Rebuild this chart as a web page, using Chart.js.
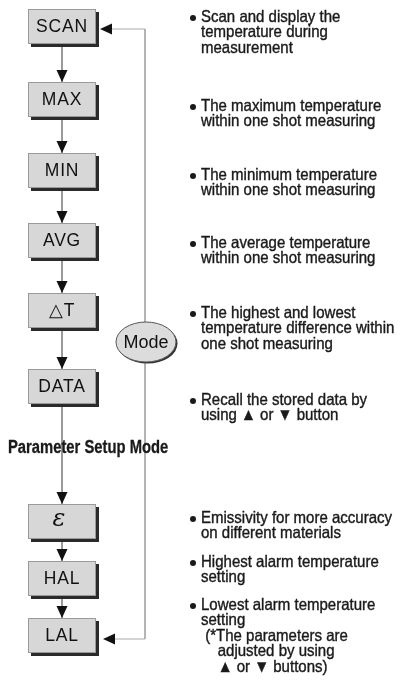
<!DOCTYPE html>
<html>
<head>
<meta charset="utf-8">
<script src="https://cdn.jsdelivr.net/npm/chart.js@4.4.1/dist/chart.umd.min.js"></script>
<style>
html, body { margin: 0; padding: 0; background: #fff; }
canvas { display: block; }
</style>
</head>
<body>
<canvas id="flowCanvas" width="404" height="696"></canvas>
<script>
// ステップ (箱) とその位置
const boxLabels = ["SCAN", "MAX", "MIN", "AVG", "\u25B3T", "DATA", "\u03B5", "HAL", "LAL"];
const boxTops = [9, 82, 153, 223, 293, 369, 504, 561, 618];

// 右側の説明文
const descLines = [
    ["Scan and display the", "temperature during", "measurement"],
    ["The maximum temperature", "within one shot measuring"],
    ["The minimum temperature", "within one shot measuring"],
    ["The average temperature", "within one shot measuring"],
    ["The highest and lowest", "temperature difference within", "one shot measuring"],
    ["Recall the stored data by", "using \u25B2 or \u25BC button"],
    ["Emissivity for more accuracy", "on different materials"],
    ["Highest alarm temperature", "setting"],
    ["Lowest alarm temperature", "setting", " (*The parameters are", "    adjusted by using", "    \u25B2 or \u25BC buttons)"]
];
const descTops = [17, 106, 175, 243, 313, 400, 518, 562, 605];

const modeLabel = "Mode";
const modeCenter = [146, 342];
const sectionLabel = "Parameter Setup Mode";
const sectionY = 448;

// ループ線 (LAL -> SCAN)
const loopX = 145;
const loopTopY = 29;
const loopBottomY = 639;

const boxX = 28, boxW = 68, boxH = 35, centerX = 62;

// 細い縦長の文字を描く
function narrowText(ctx, text, x, y, font, sx, weight) {
    ctx.save();
    ctx.translate(x, y);
    ctx.scale(sx, 1);
    ctx.textAlign = 'left';
    ctx.textBaseline = 'middle';
    ctx.font = font;
    ctx.fillText(text, 0, 0);
    if (weight) {
        ctx.lineWidth = weight;
        ctx.strokeStyle = ctx.fillStyle;
        ctx.strokeText(text, 0, 0);
    }
    ctx.restore();
}

const flowPlugin = {
    id: 'flow',
    afterDatasetsDraw(chart) {
        const { ctx, scales: { x, y } } = chart;
        const px = v => x.getPixelForValue(v);
        const py = v => y.getPixelForValue(v);
        ctx.save();

        // 下向き矢印
        ctx.fillStyle = '#111';
        for (let i = 1; i < boxTops.length; i++) {
            const tx = px(centerX), ty = py(boxTops[i]);
            ctx.beginPath();
            ctx.moveTo(tx, ty);
            ctx.lineTo(tx - 5.5, ty - 12);
            ctx.lineTo(tx + 5.5, ty - 12);
            ctx.closePath();
            ctx.fill();
        }
        // 左向き矢印
        [[boxX + boxW + 4, loopTopY], [boxX + boxW + 7, loopBottomY]].forEach(([ax, ay]) => {
            const tx = px(ax), ty = py(ay);
            ctx.beginPath();
            ctx.moveTo(tx, ty);
            ctx.lineTo(tx + 12, ty - 5.5);
            ctx.lineTo(tx + 12, ty + 5.5);
            ctx.closePath();
            ctx.fill();
        });

        // 箱
        const w = px(boxX + boxW) - px(boxX);
        boxTops.forEach((top, i) => {
            const bx = px(boxX), by = py(top);
            ctx.fillStyle = '#2a2a2a';
            ctx.fillRect(bx + 3, by + 3, w, boxH);
            ctx.fillStyle = '#d7d7d7';
            ctx.fillRect(bx, by, w, boxH);
            ctx.strokeStyle = '#9a9a9a';
            ctx.lineWidth = 1;
            ctx.strokeRect(bx + 0.5, by + 0.5, w - 1, boxH - 1);

            ctx.fillStyle = '#111';
            ctx.textAlign = 'center';
            ctx.textBaseline = 'middle';
            if (boxLabels[i] === "\u03B5") {
                ctx.font = 'italic 24px "DejaVu Serif"';
                ctx.fillText(boxLabels[i], bx + w / 2 - 3, by + boxH / 2 - 2);
            } else {
                ctx.font = '17.5px "Liberation Sans", Arial, sans-serif';
                ctx.letterSpacing = '0.8px';
                ctx.fillText(boxLabels[i], bx + w / 2, by + boxH / 2 + 1);
                ctx.letterSpacing = '0px';
            }
        });

        // Mode 楕円
        const mx = px(modeCenter[0]), my = py(modeCenter[1]);
        ctx.fillStyle = '#333';
        ctx.beginPath();
        ctx.ellipse(mx + 1.5, my + 1.5, 30, 20, 0, 0, Math.PI * 2);
        ctx.fill();
        ctx.fillStyle = '#dcdcdc';
        ctx.strokeStyle = '#555';
        ctx.beginPath();
        ctx.ellipse(mx, my, 30, 20, 0, 0, Math.PI * 2);
        ctx.fill();
        ctx.stroke();
        ctx.fillStyle = '#111';
        ctx.font = '18px "Liberation Sans", Arial, sans-serif';
        ctx.fillText(modeLabel, mx, my + 1);

        // Parameter Setup Mode
        ctx.fillStyle = '#1a1a1a';
        narrowText(ctx, sectionLabel, px(8), py(sectionY), 'bold 17.5px "Liberation Sans", Arial, sans-serif', 0.845, 0.3);

        // 説明文
        descLines.forEach((lines, i) => {
            const y0 = py(descTops[i]);
            ctx.fillStyle = '#1a1a1a';
            ctx.beginPath();
            ctx.arc(px(193), y0 + 1, 3, 0, Math.PI * 2);
            ctx.fill();
            lines.forEach((line, j) => {
                narrowText(ctx, line, px(201), y0 + j * 15.5, '16.5px "Liberation Sans", Arial, sans-serif', 0.91, 0.4);
            });
        });

        ctx.restore();
    }
};

const ctx = document.getElementById('flowCanvas').getContext('2d');
new Chart(ctx, {
    type: 'scatter',
    data: {
        datasets: [
            {
                // 縦の流れ線
                data: [{ x: centerX, y: boxTops[0] + boxH }, { x: centerX, y: boxTops[boxTops.length - 1] }],
                showLine: true,
                borderColor: '#8c8c8c',
                borderWidth: 1,
                pointRadius: 0
            },
            {
                // ループ線
                data: [
                    { x: boxX + boxW + 14, y: loopTopY },
                    { x: loopX, y: loopTopY },
                    { x: loopX, y: loopBottomY },
                    { x: boxX + boxW + 17, y: loopBottomY }
                ],
                showLine: true,
                borderColor: '#aaaaaa',
                borderWidth: 1,
                pointRadius: 0
            }
        ]
    },
    options: {
        responsive: false,
        animation: false,
        devicePixelRatio: 1,
        layout: { padding: 0 },
        plugins: { legend: { display: false }, tooltip: { enabled: false } },
        scales: {
            x: { type: 'linear', min: 0, max: 404, display: false },
            y: { type: 'linear', min: 0, max: 696, reverse: true, display: false }
        }
    },
    plugins: [flowPlugin]
});
</script>
</body>
</html>
